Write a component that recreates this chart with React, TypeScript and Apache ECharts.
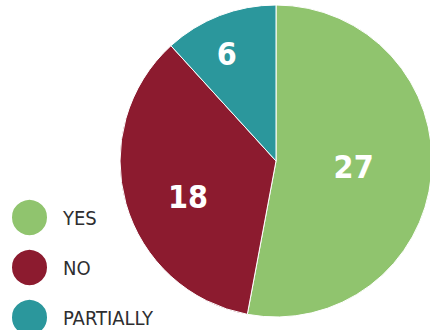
import React, { useEffect, useRef } from "react";
import * as echarts from "echarts";

const categories = ["YES", "NO", "PARTIALLY"];
const values = [27, 18, 6];
const colors = ["#90c46e", "#8c1b2f", "#2b979c"];
const labelOffsets: [number, number][] = [[-3, -1], [-10, 14], [-20, -31]];
const FONT = "'DejaVu Sans Condensed', 'Liberation Sans Narrow', 'Roboto', sans-serif";

export default function App() {
  const ref = useRef<HTMLDivElement>(null);
  useEffect(() => {
    document.body.style.margin = "0";
    const chart = echarts.init(ref.current!, null, { renderer: "svg" });
    chart.setOption({
      animation: false,
      legend: {
        orient: "vertical",
        left: 10,
        top: 198,
        height: 160,
        padding: 0,
        icon: "circle",
        itemWidth: 37,
        itemHeight: 37,
        itemGap: 11,
        data: categories,
        textStyle: {
          fontFamily: FONT,
          fontSize: 20,
          color: "#2e2e30",
          padding: [0, 0, 0, 10],
        },
        selectedMode: false,
      },
      series: [
        {
          type: "pie",
          center: [276, 161],
          radius: 156,
          startAngle: 90,
          clockwise: true,
          itemStyle: { borderColor: "#ffffff", borderWidth: 1 },
          label: {
            position: "inside",
            formatter: "{c}",
            color: "#ffffff",
            fontFamily: FONT,
            fontWeight: "bold",
            fontSize: 32,
          },
          labelLine: { show: false },
          emphasis: { disabled: true },
          data: categories.map((name, i) => ({
            name,
            value: values[i],
            itemStyle: { color: colors[i] },
            label: { offset: labelOffsets[i] },
          })),
        },
      ],
    });
    return () => chart.dispose();
  }, []);
  return <div ref={ref} style={{ width: 430, height: 330 }} />;
}
